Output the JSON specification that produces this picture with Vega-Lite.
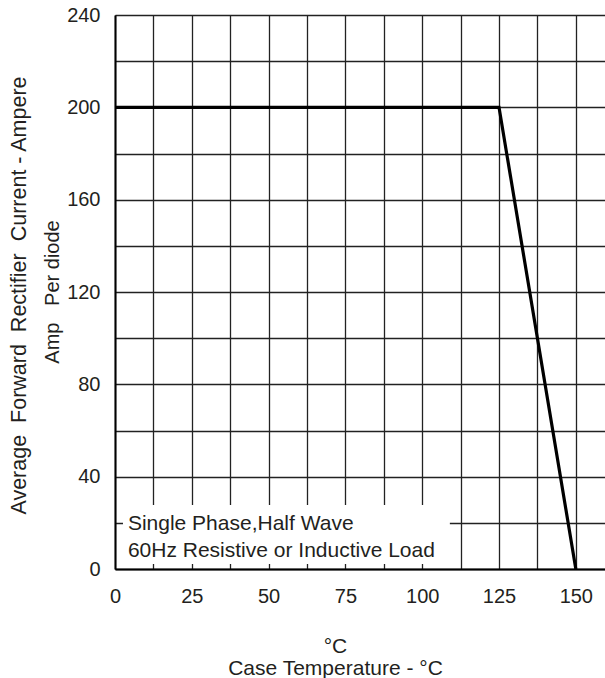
{
  "$schema": "https://vega.github.io/schema/vega-lite/v6.json",
  "width": 490,
  "height": 554,
  "autosize": {"type": "none"},
  "padding": {"left": 115, "top": 15, "right": 0, "bottom": 109},
  "background": "white",
  "config": {"view": {"stroke": null}, "font": "Liberation Sans"},
  "layer": [
    {
      "data": {"values": [
        {"t": 0, "a": 200},
        {"t": 125, "a": 200},
        {"t": 150, "a": 0}
      ]},
      "mark": {"type": "line", "color": "black", "strokeWidth": 3.2},
      "encoding": {
        "x": {
          "field": "t", "type": "quantitative",
          "scale": {"domain": [0, 159.5], "nice": false, "zero": false},
          "axis": {
            "values": [0, 12.5, 25, 37.5, 50, 62.5, 75, 87.5, 100, 112.5, 125, 137.5, 150],
            "labelExpr": "datum.value % 25 == 0 ? datum.label : ''",
            "ticks": false,
            "labelPadding": 17,
            "labelFontSize": 20,
            "labelColor": "#231f20",
            "labelFlush": false,
            "labelOverlap": false,
            "grid": true,
            "gridColor": "#222222",
            "gridWidth": 1.3,
            "gridOpacity": 1,
            "domainColor": "black",
            "domainWidth": 2,
            "title": ["°C", "Case Temperature - °C"],
            "titleFontSize": 21,
            "titleFontWeight": "normal",
            "titleColor": "#231f20",
            "titleX": 220,
            "titleY": 83,
            "titleAlign": "center",
            "titleBaseline": "alphabetic",
            "titleLineHeight": 22
          }
        },
        "y": {
          "field": "a", "type": "quantitative",
          "scale": {"domain": [0, 240], "nice": false},
          "axis": {
            "values": [0, 20, 40, 60, 80, 100, 120, 140, 160, 180, 200, 220, 240],
            "labelExpr": "datum.value % 40 == 0 ? datum.label : ''",
            "ticks": false,
            "labelPadding": 15,
            "labelFontSize": 20,
            "labelColor": "#231f20",
            "labelOverlap": false,
            "labelFlush": false,
            "grid": true,
            "gridColor": "#222222",
            "gridWidth": 1.3,
            "gridOpacity": 1,
            "domainColor": "black",
            "domainWidth": 2,
            "title": "Average\u00a0 Forward\u00a0 Rectifier\u00a0 Current - Ampere",
            "titleFontSize": 21.5,
            "titleFontWeight": "normal",
            "titleColor": "#231f20",
            "titleAngle": 270,
            "titleX": -90,
            "titleY": 280,
            "titleAlign": "center",
            "titleBaseline": "alphabetic"
          }
        }
      }
    },
    {
      "data": {"values": [{"t": 2.6, "t2": 109, "a": 2.2, "a2": 27.7}]},
      "mark": {"type": "rect", "fill": "white"},
      "encoding": {
        "x": {"field": "t", "type": "quantitative"},
        "x2": {"field": "t2"},
        "y": {"field": "a", "type": "quantitative"},
        "y2": {"field": "a2"}
      }
    },
    {
      "data": {"values": [
        {"t": 4.2, "a": 16.9, "label": "Single Phase,Half Wave"},
        {"t": 4.2, "a": 5.2, "label": "60Hz Resistive or Inductive Load"}
      ]},
      "mark": {"type": "text", "align": "left", "baseline": "alphabetic", "fontSize": 21, "color": "#231f20"},
      "encoding": {
        "x": {"field": "t", "type": "quantitative"},
        "y": {"field": "a", "type": "quantitative"},
        "text": {"field": "label"}
      }
    },
    {
      "data": {"values": [
        {"t": -18.2, "a": 120, "label": "Amp\u00a0\u00a0 Per diode"}
      ]},
      "mark": {"type": "text", "align": "center", "baseline": "alphabetic", "angle": 270, "fontSize": 20, "color": "#231f20"},
      "encoding": {
        "x": {"field": "t", "type": "quantitative"},
        "y": {"field": "a", "type": "quantitative"},
        "text": {"field": "label"}
      }
    }
  ]
}
